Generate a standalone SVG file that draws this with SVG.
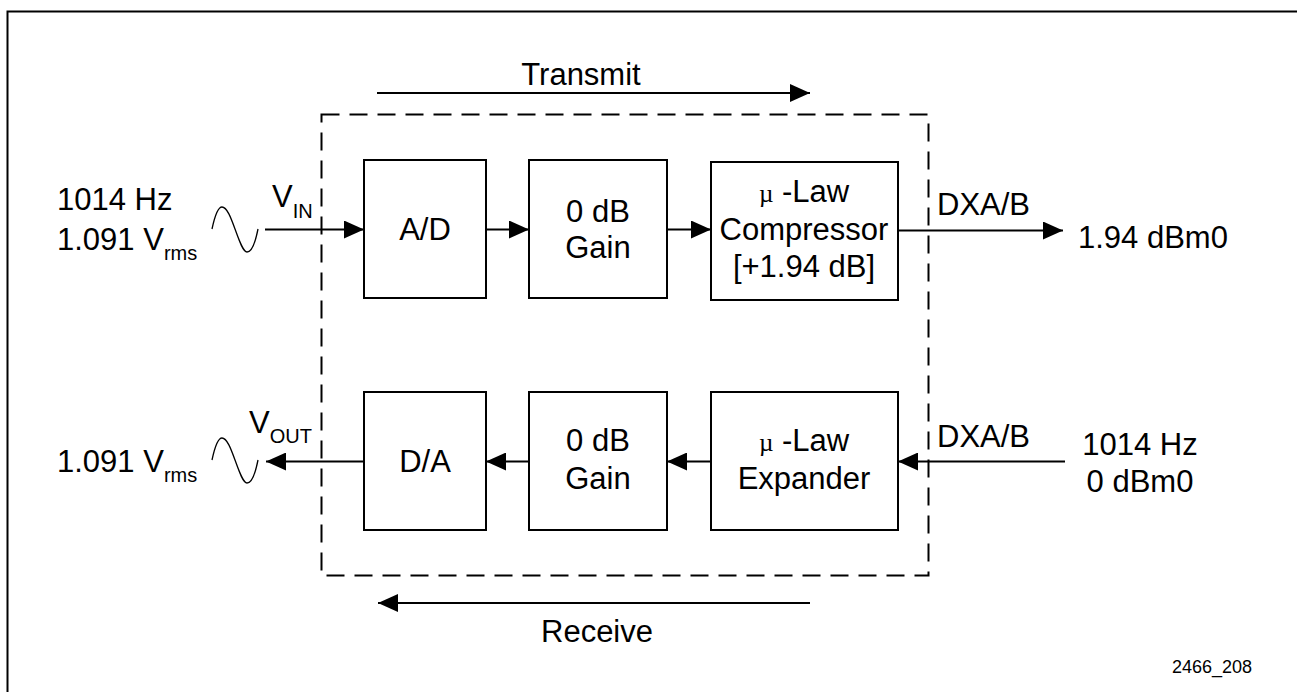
<svg xmlns="http://www.w3.org/2000/svg" width="1297" height="692" viewBox="0 0 1297 692">
<defs>
<style>
text{font-family:"Liberation Sans",Arial,sans-serif;font-size:31px;fill:#000}
.sub{font-size:20px}
.mu{font-family:"Liberation Serif","DejaVu Serif",serif;font-size:25px}
.box{fill:#fff;stroke:#000;stroke-width:2}
.ln{fill:none;stroke:#000;stroke-width:2}
.dash{fill:none;stroke:#000;stroke-width:2;stroke-dasharray:18 10}
.c{text-anchor:middle}
</style>
<marker id="ah" viewBox="0 0 20 18" refX="20" refY="9" markerWidth="20" markerHeight="18" markerUnits="userSpaceOnUse" orient="auto">
<path d="M0,0 L20,9 L0,18 Z" fill="#000"/>
</marker>
</defs>
<rect width="1297" height="692" fill="#fff"/>
<path d="M7.5,692 V11.5 H1297" class="ln"/>
<rect id="boundary" x="321.5" y="114.5" width="607" height="461" class="dash"/>

<g id="connectors">
<path d="M377,93 H810" class="ln" marker-end="url(#ah)"/>
<path d="M810,603 H378" class="ln" marker-end="url(#ah)"/>
<path d="M265,229.5 H364" class="ln" marker-end="url(#ah)"/>
<path d="M486,229.5 H529" class="ln" marker-end="url(#ah)"/>
<path d="M667,229.5 H711" class="ln" marker-end="url(#ah)"/>
<path d="M898,230.5 H1063" class="ln" marker-end="url(#ah)"/>
<path d="M1065,461.5 H898" class="ln" marker-end="url(#ah)"/>
<path d="M711,461.5 H667" class="ln" marker-end="url(#ah)"/>
<path d="M529,461.5 H486" class="ln" marker-end="url(#ah)"/>
<path d="M364,461.5 H266" class="ln" marker-end="url(#ah)"/>
</g>

<g id="labels">
<text x="581" y="85" class="c">Transmit</text>
<text x="597" y="642" class="c">Receive</text>
<text x="57" y="210">1014 Hz</text>
<text x="57" y="250">1.091 V<tspan class="sub" dy="10">rms</tspan></text>
<text x="272" y="207">V<tspan class="sub" dy="11">IN</tspan></text>
<text x="57" y="472">1.091 V<tspan class="sub" dy="10">rms</tspan></text>
<text x="249" y="433">V<tspan class="sub" dy="10">OUT</tspan></text>
<text x="937" y="215">DXA/B</text>
<text x="1078" y="248">1.94 dBm0</text>
<text x="937" y="447">DXA/B</text>
<text x="1140" y="455" class="c">1014 Hz</text>
<text x="1140" y="492" class="c">0 dBm0</text>
<text x="1252" y="673" style="font-size:18px;text-anchor:end">2466_208</text>
</g>

<g id="sine-in">
<path d="M212,229 C215,215 218,207 222,207 C227,207 231,218 235,229 C239,240 243,252 247,252 C251,252 255,244 258,229" class="ln" style="stroke-width:1.3"/>
</g>
<g id="sine-out">
<path d="M212,460 C215,446 218,438 222,438 C227,438 231,449 235,460 C239,471 243,483 247,483 C251,483 255,475 258,460" class="ln" style="stroke-width:1.3"/>
</g>

<g id="ad">
<rect x="364" y="160" width="122" height="138" class="box"/>
<text x="425" y="240" class="c">A/D</text>
</g>
<g id="gain-tx">
<rect x="529" y="160" width="138" height="138" class="box"/>
<text x="598" y="222" class="c">0 dB</text>
<text x="598" y="258" class="c">Gain</text>
</g>
<g id="compressor">
<rect x="711" y="162" width="187" height="138" class="box"/>
<text x="804" y="202" class="c"><tspan class="mu">µ</tspan> -Law</text>
<text x="804" y="240" class="c">Compressor</text>
<text x="804" y="277" class="c">[+1.94 dB]</text>
</g>
<g id="da">
<rect x="364" y="392" width="122" height="138" class="box"/>
<text x="425" y="472" class="c">D/A</text>
</g>
<g id="gain-rx">
<rect x="529" y="392" width="138" height="138" class="box"/>
<text x="598" y="451" class="c">0 dB</text>
<text x="598" y="489" class="c">Gain</text>
</g>
<g id="expander">
<rect x="711" y="392" width="187" height="138" class="box"/>
<text x="804" y="451" class="c"><tspan class="mu">µ</tspan> -Law</text>
<text x="804" y="489" class="c">Expander</text>
</g>
</svg>
